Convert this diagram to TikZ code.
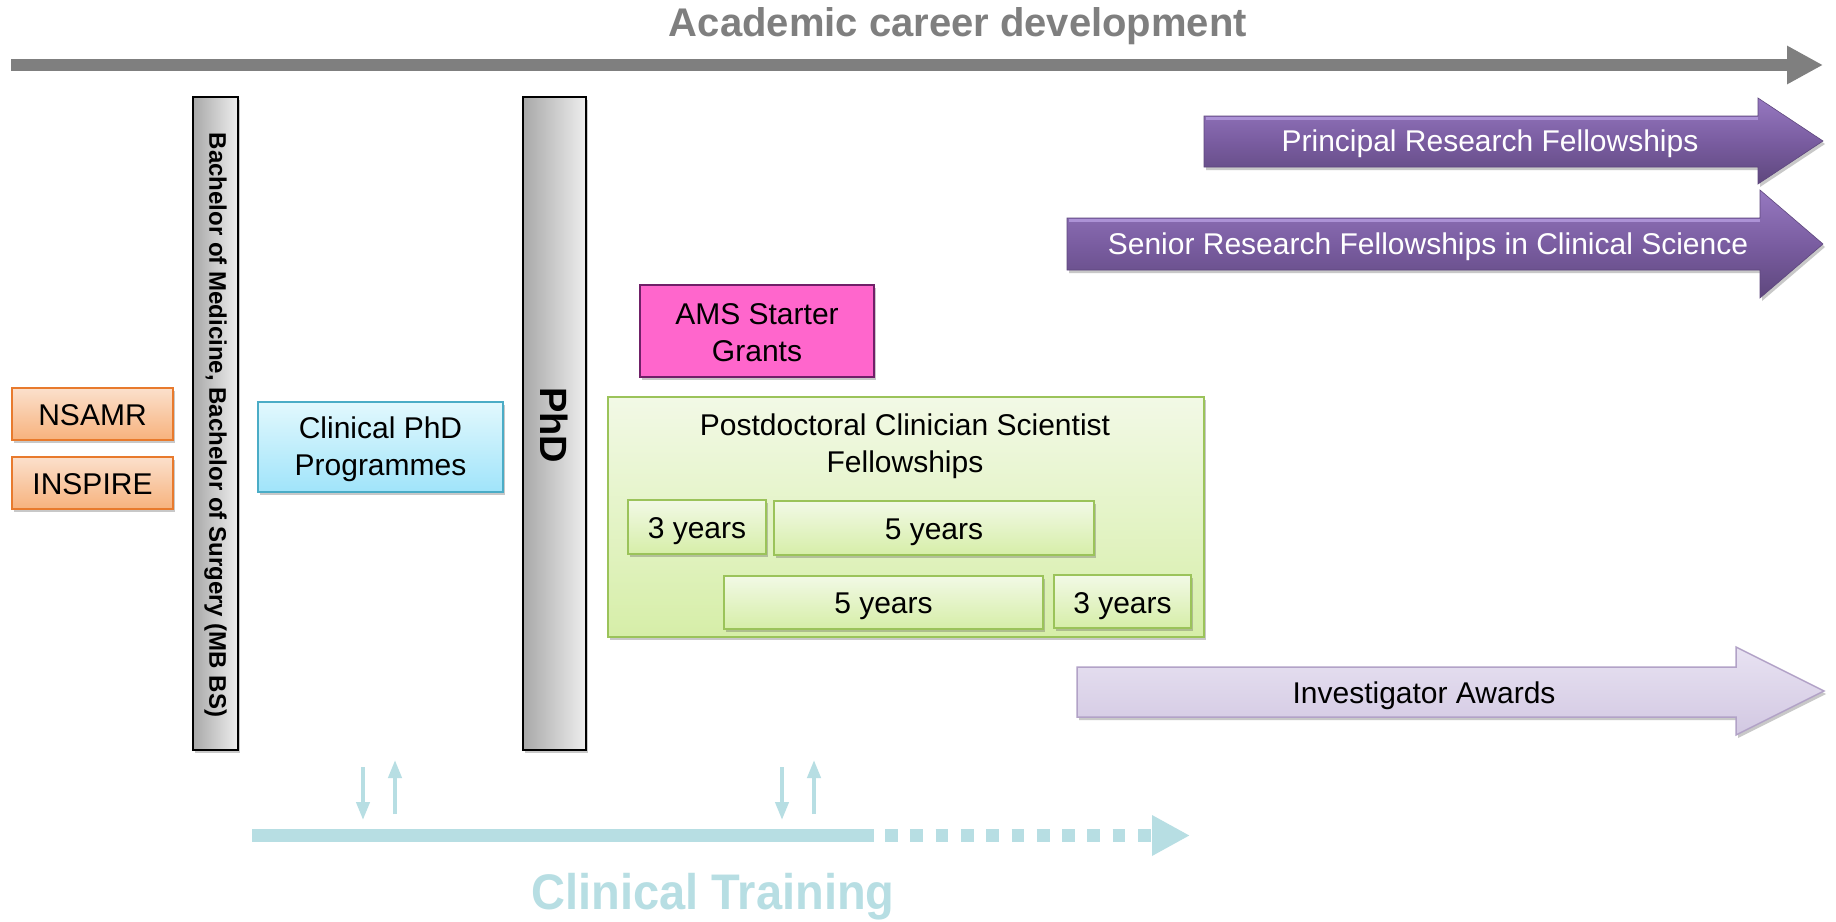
\documentclass[tikz,border=0pt]{standalone}
\usepackage{fontspec}
\setmainfont{Liberation Sans}
\usepackage{graphicx}
\usetikzlibrary{arrows.meta,shadows}

\definecolor{titlegray}{RGB}{127,127,127}
\definecolor{ctteal}{RGB}{183,222,227}
\definecolor{orfillT}{RGB}{251,224,204}
\definecolor{orfillB}{RGB}{247,178,125}
\definecolor{ordraw}{RGB}{232,122,45}
\definecolor{cyT}{RGB}{226,248,253}
\definecolor{cyB}{RGB}{160,228,250}
\definecolor{cydraw}{RGB}{75,172,198}
\definecolor{amsfill}{RGB}{255,102,204}
\definecolor{amsdraw}{RGB}{112,32,104}
\definecolor{grT}{RGB}{242,249,230}
\definecolor{grB}{RGB}{214,238,168}
\definecolor{grdraw}{RGB}{155,195,90}
\definecolor{puT}{RGB}{150,120,192}
\definecolor{puM}{RGB}{122,93,161}
\definecolor{puB}{RGB}{94,71,125}
\definecolor{puHi}{RGB}{172,146,214}
\definecolor{lavT}{RGB}{232,226,242}
\definecolor{lavB}{RGB}{210,200,226}
\definecolor{lavdraw}{RGB}{178,162,199}
\definecolor{barL}{RGB}{168,168,168}
\definecolor{barR}{RGB}{238,238,238}

\tikzset{
  bodytext/.style={font=\fontsize{30}{37}\selectfont, align=center, inner sep=0pt},
  linetext/.style={bodytext, text height=29pt, text depth=6pt},
  softshadow/.style={drop shadow={shadow xshift=2pt, shadow yshift=-3pt, opacity=0.3, fill=black!70}},
  orangebox/.style={linetext, draw=ordraw, line width=2pt, top color=orfillT, bottom color=orfillB,
    minimum width=161pt, minimum height=52pt, softshadow},
  cyanbox/.style={draw=cydraw, line width=2pt, top color=cyT, bottom color=cyB, softshadow},
  amsbox/.style={draw=amsdraw, line width=2pt, fill=amsfill, softshadow},
  greenbox/.style={draw=grdraw, line width=2pt, top color=grT, bottom color=grB, softshadow},
  yearbox/.style={greenbox, linetext},
  barbox/.style={draw=black, line width=2pt, left color=barL, right color=barR, softshadow},
  purplearrow/.style={top color=puT, bottom color=puB, middle color=puM, draw=puB, line width=0.6pt, softshadow},
  purplebevel/.style={draw=puHi, line width=3pt},
  lavarrow/.style={top color=lavT, bottom color=lavB, draw=lavdraw, line width=1.5pt, softshadow},
  whitetext/.style={linetext, text=white},
  smallarrow/.style={draw=ctteal, line width=4pt, -{Triangle[length=18pt,width=13pt]}},
}

\begin{document}
\begin{tikzpicture}[x=1pt, y=-1pt]
\useasboundingbox (0,0) rectangle (1836,921);
\fill[white] (0,0) rectangle (1836,921);

% title and top arrow
\node[font=\bfseries\fontsize{40}{48}\selectfont, text=titlegray, anchor=base, inner sep=0pt] (title) at (958,36) {Academic career development};
\coordinate (acs) at (11,65);
\coordinate (ace) at (1823,65);
\draw[titlegray, line width=12pt, -{Triangle[length=36pt,width=36pt]}] (acs) -- (ace);

% left boxes
\node[orangebox] (nsamr) at (92.5,414) {NSAMR};
\node[orangebox] (inspire) at (92.5,483) {INSPIRE};

% bars
\node[barbox, minimum width=45pt, minimum height=653pt] (mbbs) at (215.5,423.5) {};
\node[font=\bfseries\fontsize{24}{28}\selectfont, rotate=-90, inner sep=0pt] (mbbstext) at (215.5,425) {Bachelor of Medicine, Bachelor of Surgery (MB BS)};
\node[barbox, minimum width=63pt, minimum height=653pt] (phdbar) at (554.5,423.5) {};
\node[font=\bfseries\fontsize{38}{44}\selectfont, rotate=-90, inner sep=0pt] (phdtext) at (554.5,425) {PhD};

% clinical PhD programmes
\node[cyanbox, minimum width=245pt, minimum height=90pt] (cphd) at (380.5,447) {};
\node[bodytext] (cphdtext) at (380.5,449.5) {Clinical PhD\\Programmes};

% AMS
\node[amsbox, minimum width=234pt, minimum height=92pt] (ams) at (757,331) {};
\node[bodytext] (amstext) at (757,332.5) {AMS Starter\\Grants};

% postdoctoral
\node[greenbox, minimum width=596pt, minimum height=240pt] (pdbox) at (906,517) {};
\node[bodytext] (pdtitle) at (905,446.5) {Postdoctoral Clinician Scientist\\Fellowships};
\node[yearbox, minimum width=138pt, minimum height=54pt] (ya) at (697,527) {3 years};
\node[yearbox, minimum width=320pt, minimum height=54pt] (yb) at (934,528) {5 years};
\node[yearbox, minimum width=319pt, minimum height=53pt] (yc) at (883.5,602) {5 years};
\node[yearbox, minimum width=137pt, minimum height=53pt] (yd) at (1122.5,601.5) {3 years};

% purple arrows
\path[purplearrow] (1204,116) -- (1758,116) -- (1758,98) -- (1823,141) -- (1758,184) -- (1758,167) -- (1204,167) -- cycle;
\draw[purplebevel] (1206,118) -- (1758,118);
\node[whitetext] (prf) at (1490,140) {Principal Research Fellowships};
\path[purplearrow] (1067,218) -- (1760,218) -- (1760,190) -- (1823,244) -- (1760,298) -- (1760,270) -- (1067,270) -- cycle;
\draw[purplebevel] (1069,220) -- (1760,220);
\node[whitetext] (srf) at (1428,243) {Senior Research Fellowships in Clinical Science};

% investigator awards
\path[lavarrow] (1077,667) -- (1736,667) -- (1736,647) -- (1824,691) -- (1736,735) -- (1736,717) -- (1077,717) -- cycle;
\node[linetext] (ia) at (1424,692) {Investigator Awards};

% clinical training
\coordinate (d1s) at (363,767); \coordinate (d1e) at (363,820);
\coordinate (u1s) at (395,814); \coordinate (u1e) at (395,760);
\coordinate (d2s) at (782,767); \coordinate (d2e) at (782,820);
\coordinate (u2s) at (814,814); \coordinate (u2e) at (814,760);
\draw[smallarrow] (d1s) -- (d1e);
\draw[smallarrow] (u1s) -- (u1e);
\draw[smallarrow] (d2s) -- (d2e);
\draw[smallarrow] (u2s) -- (u2e);

\coordinate (cts) at (252,835.5);
\coordinate (ctm) at (874,835.5);
\coordinate (ctd) at (885,835.5);
\coordinate (cte) at (1190,835.5);
\draw[ctteal, line width=13pt] (cts) -- (ctm);
\draw[ctteal, line width=13pt, dash pattern=on 12.7pt off 12.6pt, -{Triangle[length=38pt,width=38pt]}] (ctd) -- (cte);
\node[font=\bfseries\fontsize{50}{58}\selectfont, text=ctteal, anchor=base, inner sep=0pt] (ctlabel) at (713,909) {\scalebox{0.94}[1]{Clinical Training}};
\end{tikzpicture}
\end{document}
